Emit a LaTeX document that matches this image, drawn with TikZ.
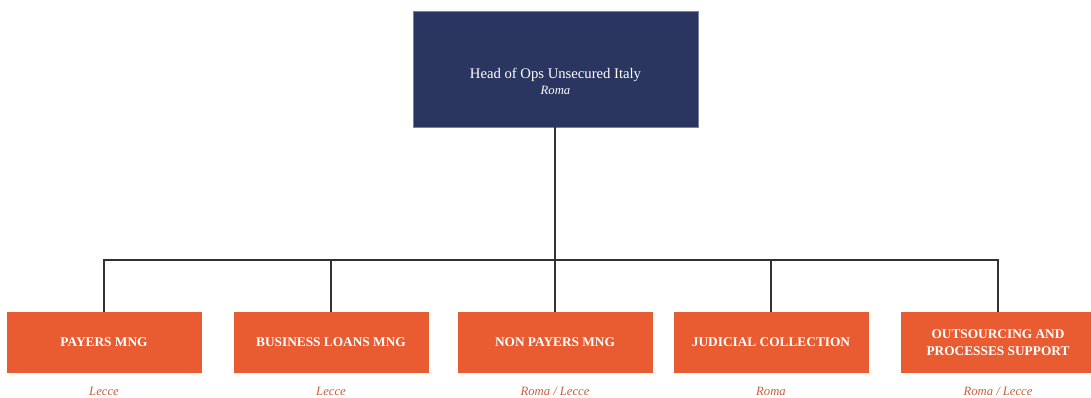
\documentclass[tikz,border=0pt]{standalone}
\usepackage{fontspec}
\setmainfont{Liberation Serif}
\usepackage{tikz}
\definecolor{navy}{RGB}{42,53,96}
\definecolor{brick}{RGB}{233,91,48}
\definecolor{brickdark}{RGB}{196,96,62}
\definecolor{wire}{RGB}{50,50,50}

\begin{document}
\begin{tikzpicture}[x=0.75pt,y=0.75pt,yscale=-1,xscale=1,
  headbox/.style={fill=navy,draw={rgb, 255:red, 120; green, 130; blue, 160},line width=0.4,minimum width=213.75pt,minimum height=87pt,inner sep=0pt},
  headtext/.style={text=white,align=center,inner sep=0pt},
  unitbox/.style={fill=brick,draw=none,minimum width=146.25pt,minimum height=45.75pt,inner sep=0pt,text=white,align=center,font=\fontsize{10}{12.75}\selectfont\bfseries},
  sitetext/.style={text=brickdark,font=\fontsize{9.5}{11}\selectfont\itshape,anchor=base,inner sep=0pt},
  wireline/.style={draw=wire,line width=1}]
%set diagram to 1091 x 398
\useasboundingbox (0,0) rectangle (1091,398);

%Shape: Rectangle [head]
\node [headbox] (head) at (555.5,69) {};
% Text Node
\node [headtext] (headname) at (555.5,81) {\fontsize{11}{16}\selectfont Head of Ops Unsecured Italy\\ \fontsize{9.5}{16}\selectfont\itshape Roma};

%Shape: Rectangle [units]
\node [unitbox] (payers) at (104,342.5) {PAYERS MNG};
\node [unitbox] (business) at (331,342.5) {BUSINESS LOANS MNG};
\node [unitbox] (nonpayers) at (555,342.5) {NON PAYERS MNG};
\node [unitbox] (judicial) at (771,342.5) {JUDICIAL COLLECTION};
\node [unitbox] (outsourcing) at (998,342.5) {OUTSOURCING AND\\PROCESSES SUPPORT};

% Text Node
\node [sitetext] (payerssite) at (104,396) {Lecce};
% Text Node
\node [sitetext] (businesssite) at (331,396) {Lecce};
% Text Node
\node [sitetext] (nonpayerssite) at (555,396) {Roma / Lecce};
% Text Node
\node [sitetext] (judicialsite) at (771,396) {Roma};
% Text Node
\node [sitetext] (outsourcingsite) at (998,396) {Roma / Lecce};

%Straight Lines [bus]
\coordinate (bus) at (555,260);
\draw [wireline] (nonpayers.north |- head.south) -- (bus);
\draw [wireline] (payers.north) -- (payers.north |- bus) -- (outsourcing.north |- bus) -- (outsourcing.north);
\draw [wireline] (business.north) -- (business.north |- bus);
\draw [wireline] (nonpayers.north) -- (nonpayers.north |- bus);
\draw [wireline] (judicial.north) -- (judicial.north |- bus);

\end{tikzpicture}
\end{document}
